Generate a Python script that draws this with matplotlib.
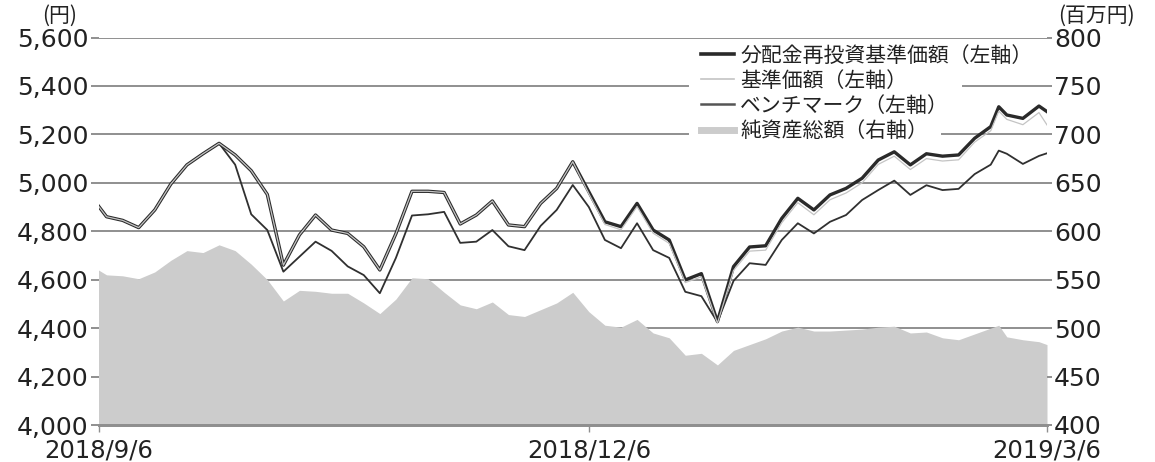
import matplotlib
matplotlib.use('Agg')
import matplotlib.pyplot as plt
import numpy as np

plt.rcParams['font.family'] = ['DejaVu Sans', 'Noto Sans CJK JP']

# trading days sampled from the chart (Japanese market calendar)
holidays = ['2018-09-17', '2018-09-24', '2018-10-08', '2018-11-23', '2018-12-24',
            '2018-12-31', '2019-01-01', '2019-01-02', '2019-01-03', '2019-01-14',
            '2019-02-11']
dates = ['2018-09-06', '2018-09-07', '2018-09-11', '2018-09-13', '2018-09-18', '2018-09-20',
         '2018-09-25', '2018-09-27', '2018-10-01', '2018-10-03', '2018-10-05', '2018-10-10',
         '2018-10-12', '2018-10-16', '2018-10-18', '2018-10-22', '2018-10-24', '2018-10-26',
         '2018-10-30', '2018-11-01', '2018-11-05', '2018-11-07', '2018-11-09', '2018-11-13',
         '2018-11-15', '2018-11-19', '2018-11-21', '2018-11-26', '2018-11-28', '2018-11-30',
         '2018-12-04', '2018-12-06', '2018-12-10', '2018-12-12', '2018-12-14', '2018-12-18',
         '2018-12-20', '2018-12-25', '2018-12-27', '2019-01-04', '2019-01-08', '2019-01-10',
         '2019-01-15', '2019-01-17', '2019-01-21', '2019-01-23', '2019-01-25', '2019-01-29',
         '2019-01-31', '2019-02-04', '2019-02-06', '2019-02-08', '2019-02-13', '2019-02-15',
         '2019-02-19', '2019-02-21', '2019-02-25', '2019-02-26', '2019-02-27', '2019-03-01',
         '2019-03-05', '2019-03-06']

# 分配金再投資基準価額
nav_reinv = [4904, 4860, 4845, 4815, 4888, 4995, 5074, 5120, 5163, 5115, 5050, 4952,
             4660, 4785, 4867, 4805, 4791, 4736, 4640, 4790, 4965, 4965, 4960, 4830,
             4867, 4925, 4826, 4819, 4915, 4977, 5087, 4963, 4839, 4819, 4915, 4805,
             4764, 4599, 4625, 4427, 4654, 4735, 4740, 4853, 4936, 4888, 4950, 4977,
             5019, 5094, 5128, 5074, 5120, 5110, 5115, 5184, 5232, 5314, 5280, 5266,
             5317, 5294]
# 基準価額
nav = [4904, 4860, 4845, 4815, 4888, 4995, 5074, 5120, 5163, 5115, 5050, 4952,
       4660, 4785, 4867, 4805, 4791, 4736, 4640, 4790, 4965, 4965, 4960, 4830,
       4867, 4925, 4826, 4819, 4915, 4977, 5087, 4955, 4828, 4806, 4902, 4792,
       4750, 4588, 4612, 4420, 4638, 4718, 4722, 4835, 4918, 4868, 4930, 4958,
       5000, 5076, 5110, 5055, 5100, 5090, 5095, 5168, 5215, 5296, 5262, 5240,
       5290, 5239]
# ベンチマーク
bench = [4904, 4860, 4845, 4815, 4888, 4995, 5074, 5120, 5163, 5075, 4870, 4805,
         4633, 4695, 4757, 4719, 4655, 4619, 4544, 4690, 4865, 4870, 4880, 4752,
         4757, 4805, 4738, 4722, 4822, 4888, 4991, 4900, 4764, 4730, 4833, 4722,
         4690, 4550, 4532, 4425, 4595, 4668, 4661, 4764, 4833, 4791, 4839, 4867,
         4929, 4970, 5009, 4950, 4990, 4970, 4975, 5036, 5075, 5133, 5120, 5078,
         5111, 5122]
# 純資産総額 (百万円)
net_assets = [560, 555, 554, 551, 558, 570, 580, 578, 586, 580, 566, 550,
              528, 539, 538, 536, 536, 526, 515, 530, 552, 551, 537, 524,
              520, 527, 514, 512, 519, 526, 537, 517, 503, 501, 509, 495,
              490, 472, 474, 462, 477, 483, 489, 497, 501, 497, 497, 498,
              499, 501, 502, 495, 496, 490, 488, 494, 500, 503, 491, 488,
              486, 483]

tick_dates = ['2018-09-06', '2018-12-06', '2019-03-06']
tick_labels = ['2018/9/6', '2018/12/6', '2019/3/6']
right_ticks = [400, 450, 500, 550, 600, 650, 700, 750, 800]

x = np.busday_count('2018-09-06', dates, holidays=holidays)
xt = np.busday_count('2018-09-06', tick_dates, holidays=holidays)

W, H = 1155, 462
left, right = 98.5, 1047
fig = plt.figure(figsize=(W / 100, H / 100), dpi=100)
ax = fig.add_axes([left / W, 1 - 425 / H, (right - left) / W, (425 - 37.5) / H])
ax2 = ax.twinx()
ax.set_zorder(ax2.get_zorder() + 1)
ax.patch.set_visible(False)

# horizontal grid, broken where the legend sits
grid_c = '#8f8f8f'
gap = {750: (688, 963), 700: (688, 942)}
for v in right_ticks[1:]:
    if v in gap:
        a0, a1 = gap[v]
        ax2.axhline(v, 0, (a0 - left) / (right - left), color=grid_c, lw=1.4, zorder=0.5)
        ax2.axhline(v, (a1 - left) / (right - left), 1, color=grid_c, lw=1.4, zorder=0.5)
    else:
        ax2.axhline(v, color=grid_c, lw=1.4, zorder=0.5)

ax2.fill_between(x, 400, net_assets, color='#cccccc', lw=0, zorder=1)
ax2.set_ylim(400, 800)
ax2.set_yticks(right_ticks)

ax.plot(x, bench, color='#303030', lw=1.3, zorder=3)
ax.plot(x, nav_reinv, color='#2a2a2a', lw=2.4, zorder=4)
ax.plot(x, nav, color='#c4c4c4', lw=0.9, zorder=5)
ax.set_ylim(4000, 5600)
ax.set_yticks(np.arange(4000, 5601, 200))
ax.set_yticklabels([f'{v:,}' for v in range(4000, 5601, 200)])
ax.set_xlim(0, xt[-1])
ax.set_xticks(xt)
ax.set_xticklabels(tick_labels)

for a in (ax, ax2):
    for s in ('left', 'right', 'top'):
        a.spines[s].set_visible(False)
    a.spines['bottom'].set_color(grid_c)
    a.spines['bottom'].set_linewidth(2.0)
ax.tick_params(axis='y', length=5.5, width=1.4, color=grid_c, labelsize=18, pad=1.5,
               labelcolor='#222222')
ax2.tick_params(axis='y', length=3.5, width=1.4, color=grid_c, labelsize=18, pad=1.5,
                labelcolor='#222222')
ax.tick_params(axis='x', length=5, width=1.0, color=grid_c, labelsize=17.5, pad=5,
               labelcolor='#222222')

handles = [
    plt.Line2D([], [], color='#2a2a2a', lw=2.6),
    plt.Line2D([], [], color='#c4c4c4', lw=1.2),
    plt.Line2D([], [], color='#555555', lw=1.8),
    plt.Line2D([], [], color='#cccccc', lw=5),
]
labels = ['分配金再投資基準価額（左軸）', '基準価額（左軸）', 'ベンチマーク（左軸）', '純資産総額（右軸）']
leg = ax.legend(handles, labels, loc='upper left', bbox_to_anchor=(688 / W, 1 - 32 / H),
                bbox_transform=fig.transFigure, frameon=False,
                handlelength=1.6, handletextpad=0.3, labelspacing=0.15, borderpad=0.1,
                prop={'family': ['Noto Sans CJK JP'], 'size': 15})
leg.set_zorder(7)
for t in leg.get_texts():
    t.set_color('#222222')

fig.text(60 / W, 1 - 16 / H, '(円)', ha='center', va='center', fontsize=15,
         family=['Noto Sans CJK JP'], color='#222222')
fig.text(1096 / W, 1 - 16 / H, '(百万円)', ha='center', va='center', fontsize=15,
         family=['Noto Sans CJK JP'], color='#222222')

fig.savefig('out.png', dpi=100)
